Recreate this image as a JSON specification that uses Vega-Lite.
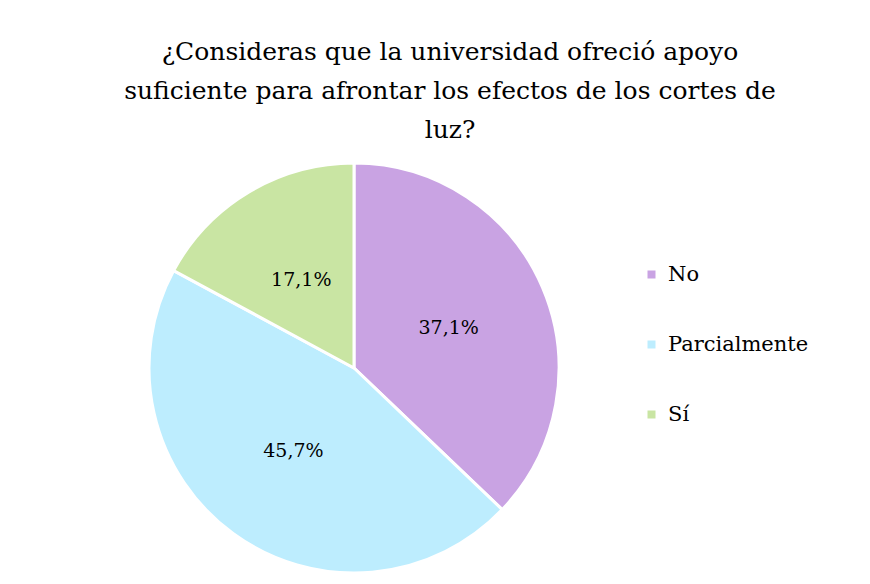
{
  "$schema": "https://vega.github.io/schema/vega-lite/v6.json",
  "width": 410,
  "height": 410,
  "autosize": {"type": "none"},
  "padding": {"left": 149, "top": 163, "right": 311, "bottom": 11},
  "background": "white",
  "title": {
    "text": ["¿Consideras que la universidad ofreció apoyo", "suficiente para afrontar los efectos de los cortes de", "luz?"],
    "font": "DejaVu Serif",
    "fontSize": 25,
    "fontWeight": "normal",
    "color": "#000000",
    "lineHeight": 39,
    "anchor": "middle",
    "dx": 96,
    "offset": 14
  },
  "data": {
    "values": [
      {"respuesta": "No", "pct": 37.1, "label": "37,1%", "orden": 1},
      {"respuesta": "Parcialmente", "pct": 45.7, "label": "45,7%", "orden": 2},
      {"respuesta": "Sí", "pct": 17.1, "label": "17,1%", "orden": 3}
    ]
  },
  "encoding": {
    "theta": {"field": "pct", "type": "quantitative", "stack": true},
    "order": {"field": "orden", "type": "quantitative"},
    "color": {
      "field": "respuesta",
      "type": "nominal",
      "scale": {"domain": ["No", "Parcialmente", "Sí"], "range": ["#C9A3E3", "#BDEDFE", "#C9E5A3"]},
      "legend": {
        "title": null,
        "orient": "none",
        "legendX": 492,
        "legendY": 101,
        "symbolType": "square",
        "symbolSize": 64,
        "symbolStrokeWidth": 0,
        "labelFont": "DejaVu Serif",
        "labelFontSize": 21,
        "labelColor": "#000000",
        "labelOffset": 6,
        "rowPadding": 48,
        "padding": 0
      }
    }
  },
  "layer": [
    {"mark": {"type": "arc", "outerRadius": 205, "stroke": "white", "strokeWidth": 3}},
    {
      "mark": {"type": "text", "radius": 103, "font": "DejaVu Serif", "fontSize": 19, "color": "#000000"},
      "encoding": {"text": {"field": "label"}, "color": {"value": "#000000"}}
    }
  ],
  "config": {"view": {"stroke": null}}
}
